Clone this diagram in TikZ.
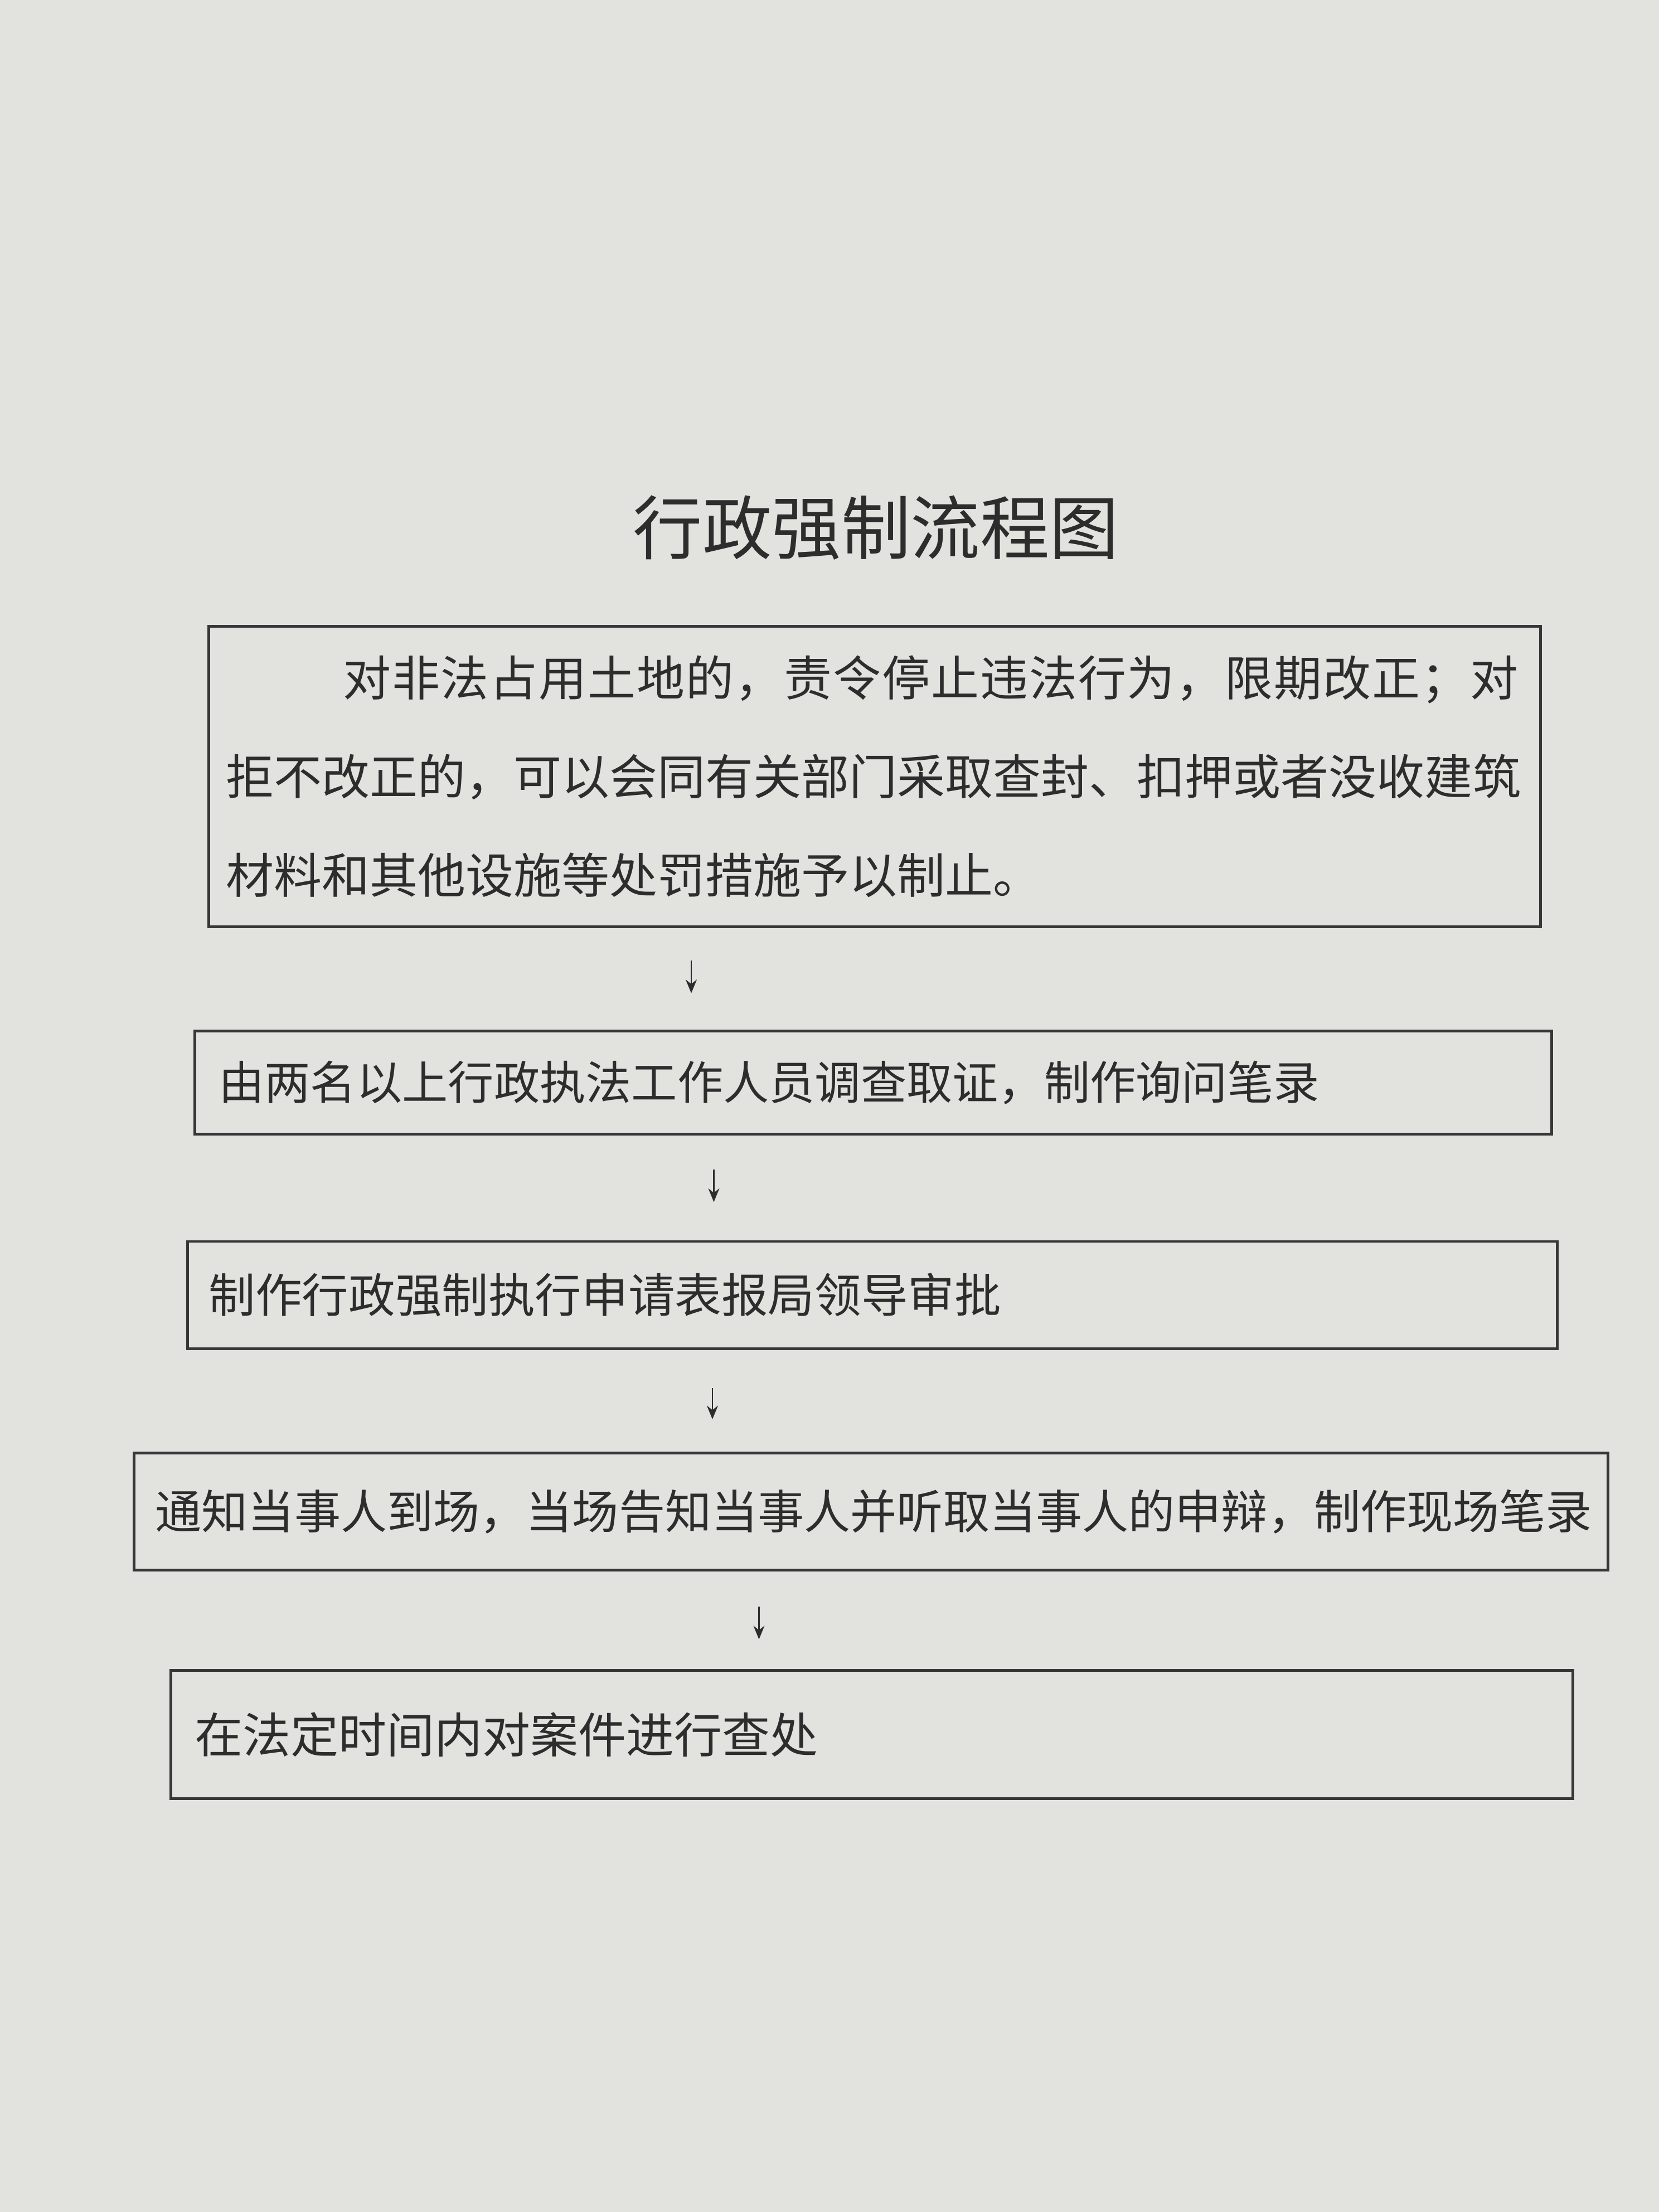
\documentclass[tikz,border=0pt]{standalone}
\usepackage{fontspec}
\newfontfamily\cjk{Noto Sans CJK SC}
\usetikzlibrary{arrows.meta}
\definecolor{bg}{RGB}{226,226,223}
\definecolor{ink}{RGB}{45,45,45}
\definecolor{linec}{RGB}{55,55,55}
\tikzset{
  box/.style={draw=linec, line width=1.1pt, rectangle, inner ysep=0pt, align=left,
    text=ink, font=\cjk},
  arr/.style={draw=ink, line width=0.5pt, -{Stealth[length=5.5pt,width=4.5pt]}},
}
\begin{document}
\begin{tikzpicture}[x=0.02cm,y=-0.02cm]
\path[fill=bg] (0,0) rectangle (1176,1568);
\useasboundingbox (0,0) rectangle (1176,1568);

\node[text=ink, font=\cjk\fontsize{28}{34}\selectfont] (title) at (621,374) {行政强制流程图};

\node[box, minimum width=18.88cm, minimum height=4.26cm, inner xsep=0.24cm, text width=18.4cm,
  font=\cjk\fontsize{19.35}{39.8}\selectfont] (b1) at (620,550.5)
  {\hspace*{1.66cm}{\addfontfeature{LetterSpace=2.2}对非法占用土地的，责令停止违法行为，限期改正；对}\\
   拒不改正的，可以会同有关部门采取查封、扣押或者没收建筑\\
   材料和其他设施等处罚措施予以制止。};

\node[box, minimum width=19.24cm, minimum height=1.46cm, inner xsep=0.34cm, text width=18.56cm,
  font=\cjk\fontsize{18.5}{22}\selectfont] (b2) at (619,767.5)
  {由两名以上行政执法工作人员调查取证，制作询问笔录};

\node[box, minimum width=19.42cm, minimum height=1.52cm, inner xsep=0.30cm, text width=18.82cm,
  font=\cjk\fontsize{18.8}{22}\selectfont] (b3) at (618.5,918)
  {制作行政强制执行申请表报局领导审批};

\node[box, minimum width=20.9cm, minimum height=1.66cm, inner xsep=0cm, text width=20.9cm,
  font=\cjk\fontsize{18.7}{22}\selectfont] (b4) at (617.5,1071.5)
  {\hspace*{0.3cm}\mbox{通知当事人到场，当场告知当事人并听取当事人的申辩，制作现场笔录}\hss};

\node[box, minimum width=19.88cm, minimum height=1.82cm, inner xsep=0.34cm, text width=19.2cm,
  font=\cjk\fontsize{19.35}{22}\selectfont] (b5) at (618,1229.5)
  {在法定时间内对案件进行查处};

\coordinate (x1) at (490,0);
\coordinate (x2) at (506,0);
\coordinate (x3) at (505,0);
\coordinate (x4) at (538,0);

\draw[arr, shorten <=0.46cm, shorten >=0.52cm] (b1.south -| x1) -- (b2.north -| x1);
\draw[arr, shorten <=0.48cm, shorten >=0.54cm] (b2.south -| x2) -- (b3.north -| x2);
\draw[arr, shorten <=0.54cm, shorten >=0.46cm] (b3.south -| x3) -- (b4.north -| x3);
\draw[arr, shorten <=0.50cm, shorten >=0.42cm] (b4.south -| x4) -- (b5.north -| x4);
\end{tikzpicture}
\end{document}
